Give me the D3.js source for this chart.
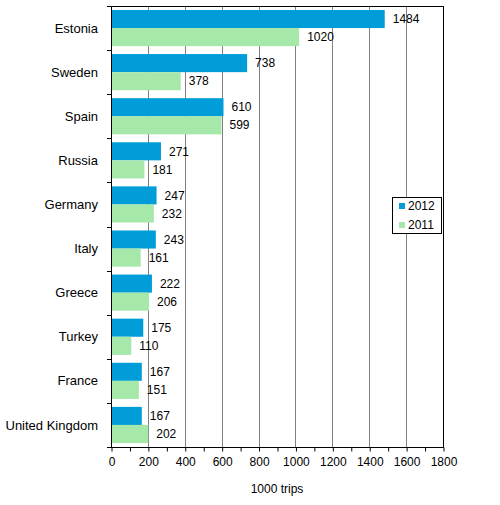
<!DOCTYPE html>
<html><head><meta charset="utf-8">
<script src="https://cdn.jsdelivr.net/npm/d3@7"></script>
<style>
body{margin:0;background:#fff;}
text{font-family:Arial,"Liberation Sans",sans-serif;font-size:12px;fill:#000;}
</style></head>
<body>
<svg id="chart" width="500" height="505"></svg>
<script>
const categories = ["Estonia","Sweden","Spain","Russia","Germany","Italy","Greece","Turkey","France","United Kingdom"];
const values2012 = [1484,738,610,271,247,243,222,175,167,167];
const values2011 = [1020,378,599,181,232,161,206,110,151,202];
const seriesNames = ["2012","2011"];
const xTicks = [0,200,400,600,800,1000,1200,1400,1600,1800];
const xTitle = "1000 trips";

const colors = {"2012":"#009dd9","2011":"#a5e8aa"};
const svg = d3.select("#chart");
const L = 111, R = 443, T = 6, B = 447;

const x = d3.scaleLinear().domain([0,1800]).range([L,R]);
const y = d3.scaleBand().domain(categories).range([T,B]).paddingInner(0.18).paddingOuter(0.09);
const sub = d3.scaleBand().domain(seriesNames).range([0,y.bandwidth()]);

// gridlines
svg.append("g").selectAll("line").data(xTicks.slice(1,-1)).join("line")
  .attr("x1",d=>Math.round(x(d))+0.5).attr("x2",d=>Math.round(x(d))+0.5)
  .attr("y1",T).attr("y2",B).attr("stroke","#808080").attr("stroke-width",1);

const data = [];
categories.forEach((c,i)=>{
  data.push({cat:c,s:"2012",v:values2012[i]});
  data.push({cat:c,s:"2011",v:values2011[i]});
});

svg.append("g").selectAll("rect").data(data).join("rect")
  .attr("x",x(0)).attr("y",d=>y(d.cat)+sub(d.s))
  .attr("width",d=>x(d.v)-x(0)).attr("height",sub.bandwidth())
  .attr("fill",d=>colors[d.s]);

svg.append("g").selectAll("text").data(data).join("text")
  .attr("x",d=>x(d.v)+8).attr("y",d=>y(d.cat)+sub(d.s)+sub.bandwidth()/2)
  .attr("dy","0.35em").text(d=>d.v);

// frame
svg.append("rect").attr("x",L+0.5).attr("y",T+0.5).attr("width",R-L).attr("height",B-T)
  .attr("fill","none").attr("stroke","#000");

// x axis
const xAxis = d3.axisBottom(x).tickValues(d3.range(0,1801,100)).tickSize(4)
  .tickFormat(d=>xTicks.includes(d)?d:"");
const gx = svg.append("g").attr("transform",`translate(0.5,${B+0.5})`).call(xAxis);
gx.select(".domain").remove();
gx.selectAll(".tick line").attr("stroke","#000");
gx.selectAll(".tick text").attr("y",10).attr("dy","0.71em").style("font-size","12px")
  .style("font-family","Arial, 'Liberation Sans', sans-serif").attr("fill","#000");

// y axis
const bounds = d3.range(categories.length+1).map(i=>T+(B-T)*i/categories.length);
svg.append("g").selectAll("line").data(bounds).join("line")
  .attr("x1",L-4).attr("x2",L).attr("y1",d=>Math.round(d)+0.5).attr("y2",d=>Math.round(d)+0.5)
  .attr("stroke","#000");
svg.append("g").selectAll("text").data(categories).join("text")
  .attr("x",L-13).attr("y",d=>y(d)+y.bandwidth()/2).attr("dy","0.35em")
  .attr("text-anchor","end").style("font-size","13px").text(d=>d);

// axis title
svg.append("text").attr("x",(L+R)/2).attr("y",493).attr("text-anchor","middle").text(xTitle);

// legend
const lg = svg.append("g").attr("transform","translate(392,197)");
lg.append("rect").attr("x",0.5).attr("y",0.5).attr("width",49).attr("height",36)
  .attr("fill","#fff").attr("stroke","#000");
seriesNames.forEach((s,i)=>{
  lg.append("rect").attr("x",7).attr("y",6+i*19).attr("width",6).attr("height",6).attr("fill",colors[s]);
  lg.append("text").attr("x",16).attr("y",9+i*19).attr("dy","0.35em").text(s);
});
</script>
</body></html>
